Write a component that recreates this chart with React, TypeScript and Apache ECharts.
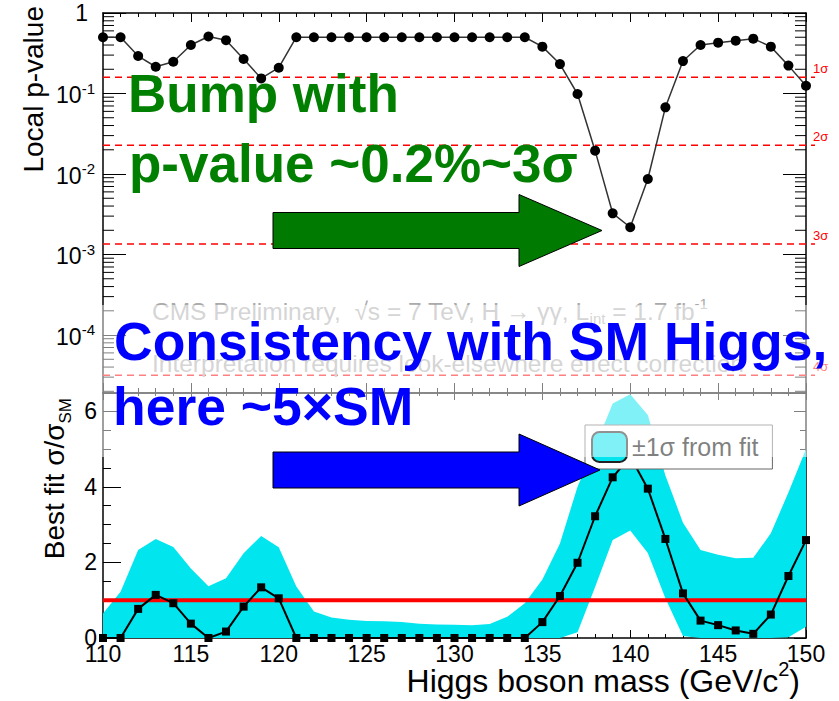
import React, { useEffect, useRef } from 'react';
import * as echarts from 'echarts';

const FONT = '"Liberation Sans", Arial, Helvetica, sans-serif';

// Higgs mass hypotheses (GeV/c^2)
const masses = [
  110, 111, 112, 113, 114, 115, 116, 117, 118, 119, 120,
  121, 122, 123, 124, 125, 126, 127, 128, 129, 130, 131, 132, 133, 134,
  135, 136, 137, 138, 139, 140, 141, 142, 143, 144, 145, 146, 147, 148, 149, 150,
];

// Local p-value of the background-only hypothesis
const localPValue = [
  0.5, 0.5, 0.292, 0.215, 0.248, 0.4, 0.51, 0.46, 0.268, 0.154, 0.209,
  0.5, 0.5, 0.5, 0.5, 0.5, 0.5, 0.5, 0.5, 0.5, 0.5, 0.5, 0.5, 0.5, 0.5,
  0.382, 0.232, 0.0986, 0.0195, 0.00325, 0.00218, 0.00867, 0.0673, 0.253, 0.4, 0.428, 0.453, 0.48, 0.382, 0.222, 0.125,
];

// Best-fit signal strength sigma/sigma_SM
const bestFitMu = [
  0, 0, 0.77, 1.14, 0.92, 0.38, 0, 0.17, 0.83, 1.34, 1.05,
  0, 0, 0, 0, 0, 0, 0, 0, 0, 0, 0, 0, 0, 0,
  0.42, 1.11, 1.99, 3.22, 4.25, 4.8, 3.95, 2.62, 1.18, 0.46, 0.34, 0.2, 0.11, 0.62, 1.64, 2.59,
];

// +-1 sigma band around the best fit
const bandLow = [
  0, 0, 0, 0, 0, 0, 0, 0, 0, 0, 0,
  0, 0, 0, 0, 0, 0, 0, 0, 0, 0, 0, 0, 0, 0,
  0, 0, 0.15, 1.35, 2.59, 2.84, 2.25, 1.05, 0.05, 0, 0, 0, 0, 0, 0.02, 0.3,
];
const bandHigh = [
  0.65, 1.22, 2.33, 2.62, 2.41, 1.84, 1.37, 1.58, 2.24, 2.7, 2.4,
  1.36, 0.7, 0.54, 0.48, 0.45, 0.44, 0.42, 0.38, 0.36, 0.35, 0.34, 0.37, 0.56, 0.92,
  1.55, 2.5, 4.0, 5.06, 6.2, 6.45, 5.9, 4.3, 3.05, 2.33, 2.2, 2.11, 2.12, 2.77, 3.85, 5.0,
];

// Standard-model expectation
const smExpectation = 1;

// Significance reference lines
const sigmaLevels = ['1σ', '2σ', '3σ', '4σ'];
const sigmaPValues = [0.158655, 0.0227501, 0.0013499, 0.0000316712];

const xMin = masses[0];
const xMax = masses[masses.length - 1];
const pMin = Math.pow(10, -4.72);
const muMax = 6.48;
const bandName = '±1σ from fit';

// ROOT-style log minor ticks (2..9 per decade)
const logMinorTicks: number[] = [];
for (let k = -5; k <= -1; k++) {
  for (let j = 2; j <= 9; j++) {
    const v = j * Math.pow(10, k);
    if (v > pMin && v < 1) logMinorTicks.push(v);
  }
}

const frameLine = { show: true, onZero: false, lineStyle: { color: '#000', width: 1.5 } };

function massAxis(gridIndex: number, position: 'top' | 'bottom', major: number, minor: number, labels: boolean) {
  return {
    type: 'value',
    gridIndex,
    position,
    min: xMin,
    max: xMax,
    interval: 5,
    axisLine: frameLine,
    axisTick: { show: true, inside: true, length: major, lineStyle: { color: '#000', width: 1 } },
    minorTick: { show: true, splitNumber: 5, length: minor, lineStyle: { color: '#000', width: 1 } },
    axisLabel: labels
      ? { show: true, fontSize: 23, color: '#000', fontFamily: FONT, margin: 4 }
      : { show: false },
    splitLine: { show: false },
    minorSplitLine: { show: false },
  };
}

function pAxis(position: 'left' | 'right', labels: boolean) {
  return {
    type: 'log',
    logBase: 10,
    gridIndex: 0,
    position,
    min: pMin,
    max: 1,
    axisLine: frameLine,
    axisTick: { show: true, inside: true, length: 23, lineStyle: { color: '#000', width: 1 } },
    minorTick: { show: false },
    splitLine: { show: false },
    axisLabel: labels
      ? {
          show: true,
          margin: 8,
          fontFamily: FONT,
          formatter: (v: number) => {
            const e = Math.log10(v);
            const k = Math.round(e);
            if (Math.abs(e - k) > 1e-6) return '';
            return k === 0 ? '{one|1}' : `{base|10}{sup|${k}}`;
          },
          rich: {
            one: { fontSize: 23, color: '#000', fontFamily: FONT, padding: [0, 7, 0, 0] },
            base: { fontSize: 23, lineHeight: 26, verticalAlign: 'bottom', color: '#000', fontFamily: FONT },
            sup: { fontSize: 15, lineHeight: 15, verticalAlign: 'top', color: '#000', fontFamily: FONT },
          },
        }
      : { show: false },
  };
}

function muAxis(position: 'left' | 'right', major: number, minor: number, labels: boolean) {
  return {
    type: 'value',
    gridIndex: 1,
    position,
    min: 0,
    max: muMax,
    interval: 2,
    axisLine: frameLine,
    axisTick: { show: true, inside: true, length: major, lineStyle: { color: '#000', width: 1 } },
    minorTick: { show: true, splitNumber: 4, length: minor, lineStyle: { color: '#000', width: 1 } },
    splitLine: { show: false },
    minorSplitLine: { show: false },
    axisLabel: labels
      ? {
          show: true,
          fontSize: 23,
          color: '#000',
          fontFamily: FONT,
          margin: 6,
          formatter: (v: number) => (Math.abs(v % 2) < 1e-9 ? String(v) : ''),
        }
      : { show: false },
  };
}

function arrow(x0: number, x1: number, tip: number, cy: number, fill: string) {
  return {
    type: 'polygon',
    z: 120,
    silent: true,
    shape: {
      points: [
        [x0, cy - 18], [x1, cy - 18], [x1, cy - 36], [tip, cy],
        [x1, cy + 36], [x1, cy + 18], [x0, cy + 18],
      ],
    },
    style: { fill, stroke: '#000', lineWidth: 1 },
  };
}

function bigText(text: string, x: number, y: number, size: number, fill: string) {
  return {
    type: 'text',
    x,
    y,
    z: 130,
    silent: true,
    style: { text, fill, fontSize: size, fontWeight: 'bold', fontFamily: FONT, align: 'left', verticalAlign: 'middle' },
  };
}

const option: any = {
  animation: false,
  backgroundColor: '#fff',
  textStyle: { fontFamily: FONT },
  grid: [
    { left: 103, top: 13, width: 703, height: 380, containLabel: false, outerBoundsMode: 'none' },
    { left: 103, top: 393, width: 703, height: 245, containLabel: false, outerBoundsMode: 'none' },
  ],
  xAxis: [
    massAxis(0, 'bottom', 10, 5, false),
    massAxis(0, 'top', 9, 4, false),
    massAxis(1, 'bottom', 8, 4, true),
    massAxis(1, 'top', 7, 3, false),
  ],
  yAxis: [pAxis('left', true), pAxis('right', false), muAxis('left', 18, 8, true), muAxis('right', 12, 6, false)],
  legend: {
    show: true,
    z: 20,
    left: 585,
    top: 425,
    orient: 'vertical',
    selectedMode: false,
    backgroundColor: '#fff',
    borderColor: '#666',
    borderWidth: 1,
    padding: [6, 14, 6, 6],
    itemWidth: 35,
    itemHeight: 30,
    itemGap: 5,
    textStyle: { fontSize: 25, color: '#000', fontFamily: FONT },
    data: [
      { name: bandName, icon: 'roundRect', itemStyle: { color: '#00e5ee', borderColor: '#222', borderWidth: 2 } },
    ],
  },
  series: [
    {
      name: bandName,
      type: 'custom',
      xAxisIndex: 2,
      yAxisIndex: 2,
      z: 1,
      clip: true,
      silent: true,
      itemStyle: { color: '#00e5ee' },
      encode: { x: 0, y: [1, 2] },
      data: masses.map((m, i) => [m, bandLow[i], bandHigh[i]]),
      renderItem: (params: any, api: any) => {
        if (params.dataIndex !== 0) return null;
        const upper = masses.map((m, i) => api.coord([m, bandHigh[i]]));
        const lower = masses.map((m, i) => api.coord([m, bandLow[i]])).reverse();
        return {
          type: 'polygon',
          shape: { points: upper.concat(lower) },
          style: { fill: '#00e5ee' },
        };
      },
    },
    {
      name: 'SM',
      type: 'line',
      xAxisIndex: 2,
      yAxisIndex: 2,
      z: 2,
      silent: true,
      symbol: 'none',
      lineStyle: { color: '#ff0000', width: 4 },
      data: [[xMin, smExpectation], [xMax, smExpectation]],
    },
    {
      name: 'Best fit',
      type: 'line',
      xAxisIndex: 2,
      yAxisIndex: 2,
      z: 3,
      clip: false,
      silent: true,
      symbol: 'rect',
      symbolSize: 8,
      itemStyle: { color: '#000' },
      lineStyle: { color: '#000', width: 2 },
      data: masses.map((m, i) => [m, bestFitMu[i]]),
    },
    {
      name: 'Significance',
      type: 'custom',
      xAxisIndex: 0,
      yAxisIndex: 0,
      z: 2,
      clip: false,
      silent: true,
      data: sigmaPValues.map((p) => [xMax, p]),
      renderItem: (params: any, api: any) => {
        const p = api.value(1);
        const l = api.coord([xMin, p]);
        const r = api.coord([xMax, p]);
        return {
          type: 'group',
          children: [
            {
              type: 'line',
              shape: { x1: l[0], y1: l[1], x2: r[0] + 9, y2: r[1] },
              style: { stroke: '#ff0000', lineWidth: 1.5, lineDash: [7, 5] },
            },
            {
              type: 'text',
              style: {
                text: sigmaLevels[params.dataIndex],
                x: r[0] + 7,
                y: r[1] - 9,
                fill: '#ff0000',
                fontSize: 13,
                fontFamily: FONT,
                align: 'left',
                verticalAlign: 'middle',
              },
            },
          ],
        };
      },
    },
    {
      name: 'Log minor ticks',
      type: 'custom',
      xAxisIndex: 0,
      yAxisIndex: 0,
      z: 2,
      clip: false,
      silent: true,
      data: logMinorTicks.map((v) => [xMin, v]),
      renderItem: (params: any, api: any) => {
        const v = api.value(1);
        const l = api.coord([xMin, v]);
        const r = api.coord([xMax, v]);
        return {
          type: 'group',
          children: [
            { type: 'line', shape: { x1: l[0], y1: l[1], x2: l[0] + 11, y2: l[1] }, style: { stroke: '#000', lineWidth: 1 } },
            { type: 'line', shape: { x1: r[0], y1: r[1], x2: r[0] - 11, y2: r[1] }, style: { stroke: '#000', lineWidth: 1 } },
          ],
        };
      },
    },
    {
      name: 'Local p-value',
      type: 'line',
      xAxisIndex: 0,
      yAxisIndex: 0,
      z: 4,
      clip: false,
      silent: true,
      symbol: 'circle',
      symbolSize: 10,
      itemStyle: { color: '#000' },
      lineStyle: { color: '#333', width: 1.5 },
      data: masses.map((m, i) => [m, localPValue[i]]),
    },
  ],
  graphic: [
    // axis titles
    {
      type: 'text',
      x: 33,
      y: 6,
      rotation: Math.PI / 2,
      silent: true,
      style: { text: 'Local p-value', fill: '#000', fontSize: 28, fontFamily: FONT, align: 'right', verticalAlign: 'middle' },
    },
    {
      type: 'text',
      x: 57,
      y: 398,
      rotation: Math.PI / 2,
      silent: true,
      style: {
        text: '{n|Best fit σ/σ}{sub|SM}',
        align: 'right',
        verticalAlign: 'middle',
        rich: {
          n: { fontSize: 28, lineHeight: 34, verticalAlign: 'top', fill: '#000', fontFamily: FONT },
          sub: { fontSize: 17, lineHeight: 17, verticalAlign: 'bottom', fill: '#000', fontFamily: FONT },
        },
      },
    },
    {
      type: 'text',
      x: 800,
      y: 678,
      silent: true,
      style: {
        text: '{n|Higgs boson mass (GeV/c}{sup|2}{n|)}',
        align: 'right',
        verticalAlign: 'middle',
        rich: {
          n: { fontSize: 32, lineHeight: 38, verticalAlign: 'bottom', fill: '#000', fontFamily: FONT },
          sup: { fontSize: 20, lineHeight: 20, verticalAlign: 'top', fill: '#000', fontFamily: FONT },
        },
      },
    },
    // CMS labels
    {
      type: 'text',
      x: 152,
      y: 311,
      z: 50,
      silent: true,
      style: {
        text: '{n|CMS Preliminary,  √s = 7 TeV, H → γγ, L}{sub|int}{n| = 1.7 fb}{sup|-1}',
        align: 'left',
        verticalAlign: 'middle',
        rich: {
          n: { fontSize: 24.5, lineHeight: 30, verticalAlign: 'middle', fill: '#aaa', fontFamily: FONT },
          sub: { fontSize: 15, lineHeight: 15, verticalAlign: 'bottom', fill: '#aaa', fontFamily: FONT },
          sup: { fontSize: 15, lineHeight: 15, verticalAlign: 'top', fill: '#aaa', fontFamily: FONT },
        },
      },
    },
    {
      type: 'text',
      x: 152,
      y: 363,
      z: 50,
      silent: true,
      style: {
        text: 'Interpretation requires look-elsewhere effect correction',
        fill: '#aaa',
        fontSize: 24.5,
        fontFamily: FONT,
        align: 'left',
        verticalAlign: 'middle',
      },
    },
    // translucent white panel behind the lower caption
    {
      type: 'rect',
      z: 100,
      silent: true,
      shape: { x: 100, y: 305, width: 739, height: 152 },
      style: { fill: 'rgba(255,255,255,0.5)' },
    },
    // annotations
    bigText('Bump with', 128, 93, 53, '#007f00'),
    bigText('p-value ~0.2%~3σ', 129, 163, 53, '#007f00'),
    arrow(273, 519, 602, 230.5, '#007a00'),
    bigText('Consistency with SM Higgs,', 114, 341.5, 53.5, '#0000ff'),
    bigText('here ~5×SM', 113, 406.5, 53.5, '#0000ff'),
    arrow(273, 519, 600, 470, '#0000ff'),
  ],
};

export default function App() {
  const ref = useRef<HTMLDivElement>(null);
  useEffect(() => {
    if (!ref.current) return;
    const chart = echarts.init(ref.current, null, { renderer: 'svg' });
    chart.setOption(option);
    return () => chart.dispose();
  }, []);
  return (
    <div
      ref={ref}
      style={{ position: 'fixed', left: 0, top: 0, width: 839, height: 701, background: '#fff' }}
    />
  );
}
